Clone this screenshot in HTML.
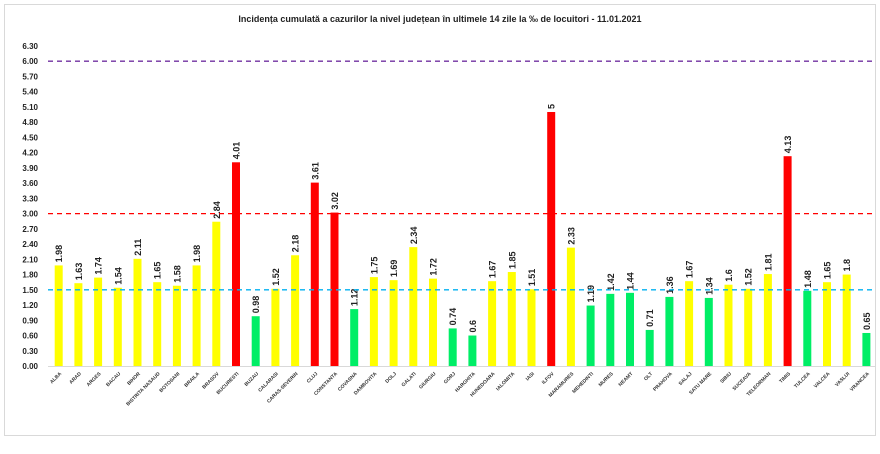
<!DOCTYPE html>
<html><head><meta charset="utf-8"><style>
html,body{margin:0;padding:0;background:#fff;}
svg{display:block;font-family:"Liberation Sans",sans-serif;}
</style></head><body>
<svg id="c" width="880" height="454" xmlns="http://www.w3.org/2000/svg">
<rect x="4.5" y="4.5" width="871" height="431" fill="#fff" stroke="#d9d9d9"/>
<text x="440" y="22" text-anchor="middle" font-size="9" font-weight="bold" fill="#222">Incidența cumulată a cazurilor la nivel județean în ultimele 14 zile la ‰ de locuitori - 11.01.2021</text>
<line x1="48" y1="366.5" x2="876" y2="366.5" stroke="#d9d9d9"/>
</svg>
<script>
const d=[["ALBA",1.98,"Y"],["ARAD",1.63,"Y"],["ARGES",1.74,"Y"],["BACAU",1.54,"Y"],["BIHOR",2.11,"Y"],["BISTRITA NASAUD",1.65,"Y"],["BOTOSANI",1.58,"Y"],["BRAILA",1.98,"Y"],["BRASOV",2.84,"Y"],["BUCURESTI",4.01,"R"],["BUZAU",0.98,"G"],["CALARASI",1.52,"Y"],["CARAS-SEVERIN",2.18,"Y"],["CLUJ",3.61,"R"],["CONSTANTA",3.02,"R"],["COVASNA",1.12,"G"],["DAMBOVITA",1.75,"Y"],["DOLJ",1.69,"Y"],["GALATI",2.34,"Y"],["GIURGIU",1.72,"Y"],["GORJ",0.74,"G"],["HARGHITA",0.6,"G"],["HUNEDOARA",1.67,"Y"],["IALOMITA",1.85,"Y"],["IASI",1.51,"Y"],["ILFOV",5,"R"],["MARAMURES",2.33,"Y"],["MEHEDINTI",1.19,"G"],["MURES",1.42,"G"],["NEAMT",1.44,"G"],["OLT",0.71,"G"],["PRAHOVA",1.36,"G"],["SALAJ",1.67,"Y"],["SATU MARE",1.34,"G"],["SIBIU",1.6,"Y"],["SUCEAVA",1.52,"Y"],["TELEORMAN",1.81,"Y"],["TIMIS",4.13,"R"],["TULCEA",1.48,"G"],["VALCEA",1.65,"Y"],["VASLUI",1.8,"Y"],["VRANCEA",0.65,"G"]];
const col={Y:"#ffff00",R:"#ff0000",G:"#00ee66"};
const y0=366,k=15.24/0.3;
let s="";
for(let i=0;i<=21;i++){const v=i*0.3,y=y0-v*k;s+=`<text x="38" y="${y+3}" text-anchor="end" font-size="8" font-weight="bold" fill="#222">${v.toFixed(2)}</text>`;}
d.forEach((r,i)=>{const cx=58.7+i*19.7,h=r[1]*k,t=y0-h;
s+=`<rect x="${cx-4}" y="${t}" width="8" height="${h}" fill="${col[r[2]]}"/>`;
s+=`<text transform="translate(${cx+3.5},${t-3}) rotate(-90)" font-size="9" font-weight="bold" fill="#222">${r[1]}</text>`;
s+=`<text transform="translate(${cx+3},${y0+8}) rotate(-45)" text-anchor="end" font-size="5" font-weight="bold" fill="#333">${r[0]}</text>`;});
const L=(v,c)=>`<line x1="48" x2="876" y1="${y0-v*k}" y2="${y0-v*k}" stroke="${c}" stroke-width="1.3" stroke-dasharray="5,4"/>`;
s+=L(6,"#7030a0")+L(3,"#ff0000")+L(1.5,"#00b0f0");
document.getElementById("c").insertAdjacentHTML("beforeend",s);
</script>
</body></html>
